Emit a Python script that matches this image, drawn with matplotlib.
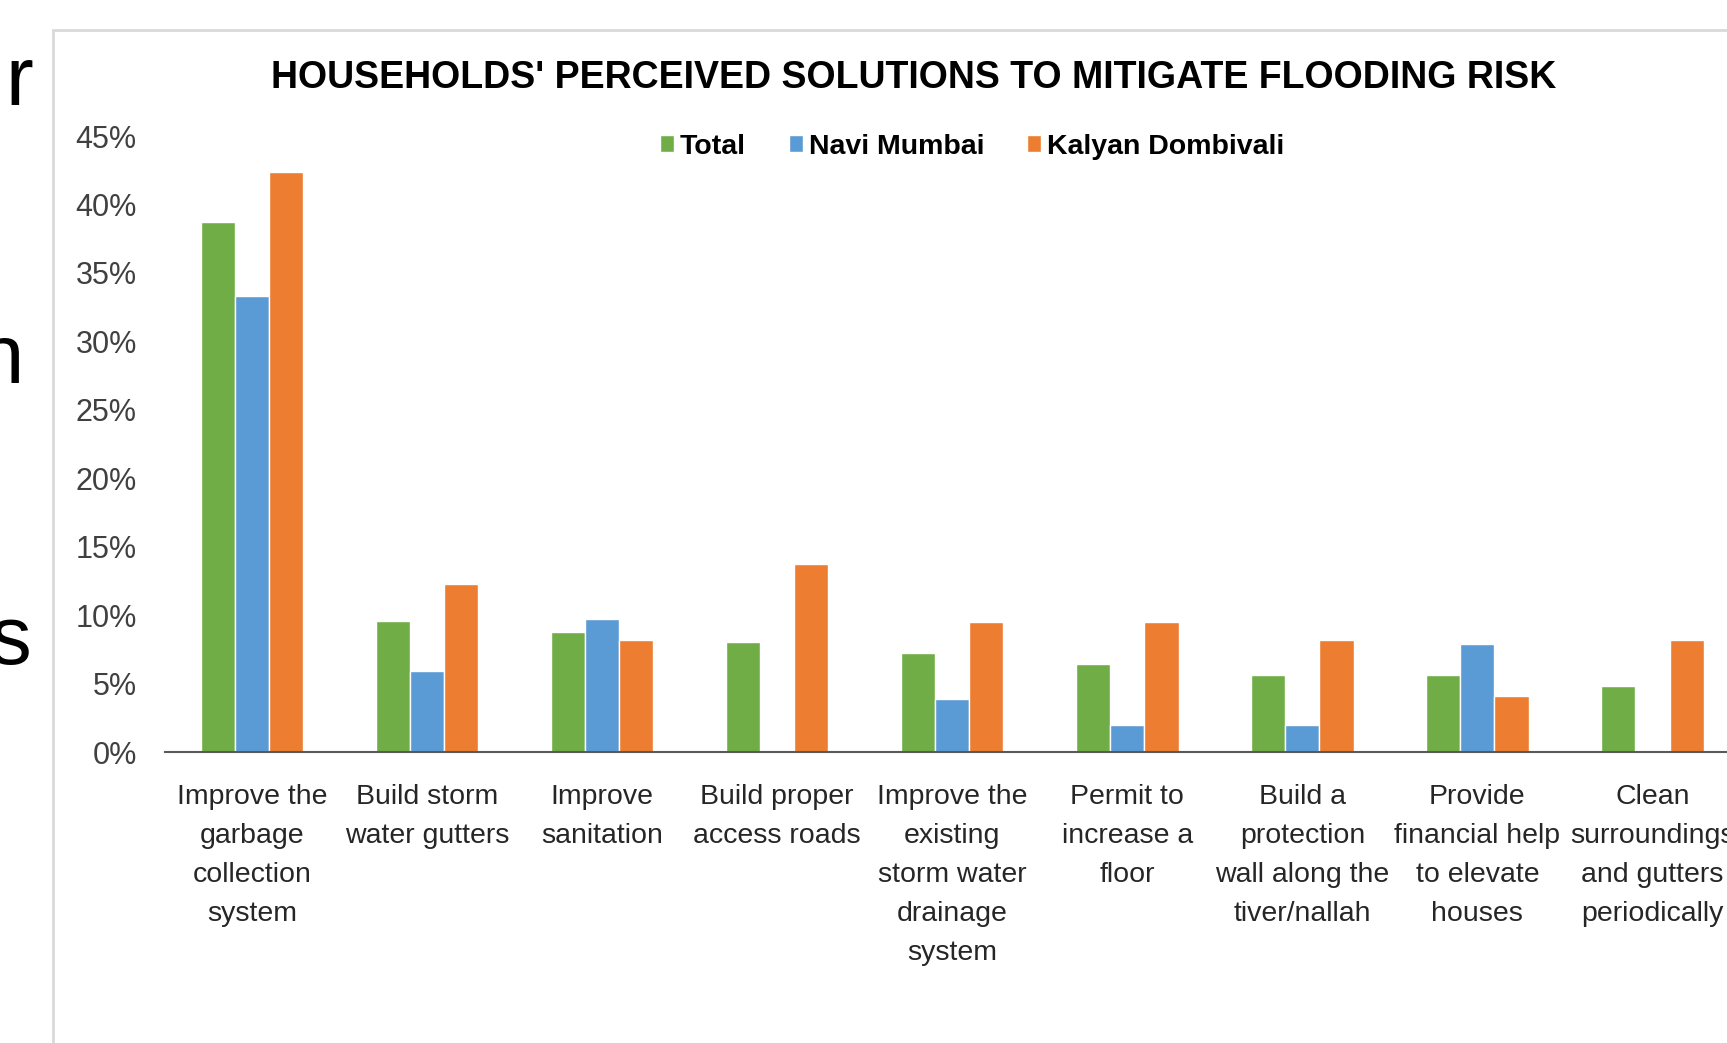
import numpy as np
import matplotlib.pyplot as plt
from matplotlib.patches import Rectangle

# categories and shares of households (fraction)
categories = [
    "Improve the\ngarbage\ncollection\nsystem",
    "Build storm\nwater gutters",
    "Improve\nsanitation",
    "Build proper\naccess roads",
    "Improve the\nexisting\nstorm water\ndrainage\nsystem",
    "Permit to\nincrease a\nfloor",
    "Build a\nprotection\nwall along the\ntiver/nallah",
    "Provide\nfinancial help\nto elevate\nhouses",
    "Clean\nsurroundings\nand gutters\nperiodically",
]
total = [0.387, 0.096, 0.088, 0.080, 0.072, 0.064, 0.056, 0.056, 0.048]
navi_mumbai = [0.333, 0.059, 0.097, 0.0, 0.039, 0.020, 0.020, 0.079, 0.0]
kalyan_dombivali = [0.424, 0.123, 0.082, 0.137, 0.095, 0.095, 0.082, 0.041, 0.082]

series_names = ["Total", "Navi Mumbai", "Kalyan Dombivali"]
colors = ["#70AD47", "#5B9BD5", "#ED7D31"]

W, H = 1727, 1043
fig = plt.figure(figsize=(W / 100, H / 100), dpi=100)
plt.rcParams['font.family'] = ['Liberation Sans', 'DejaVu Sans']

# chart frame (light grey border of the embedded chart)
fig.patches.append(Rectangle((53 / W, -0.1), 1.2, 1 - 30 / H + 0.1,
                             transform=fig.transFigure, fill=False,
                             edgecolor="#d9d9d9", linewidth=2))

# cut-off slide text at the left edge
for letter, xr, yb in [("r", 0.019, 105), ("n", 0.014, 383), ("s", 0.018, 664)]:
    fig.text(xr, 1 - yb / H, letter, fontsize=60, ha="right", va="baseline", color="#000000")

left, right = 164.5, 1740
top, bottom = 136, 752
ax = fig.add_axes([left / W, 1 - bottom / H, (right - left) / W, (bottom - top) / H])

x = np.arange(len(categories))
bw = 0.195
for i, (vals, name, c) in enumerate(zip([total, navi_mumbai, kalyan_dombivali], series_names, colors)):
    ax.bar(x + (i - 1) * bw, vals, bw, color=c, edgecolor="white", linewidth=1, label=name)

ax.set_xlim(-0.5, len(categories) - 0.5)
ax.set_ylim(0, 0.45)
ax.set_yticks(np.arange(0, 0.451, 0.05))
ax.set_yticklabels([f"{int(round(v * 100))}%" for v in np.arange(0, 0.451, 0.05)],
                   fontsize=22, color="#404040")
ax.set_xticks(x)
ax.set_xticklabels(categories, fontsize=20.5, color="#262626", linespacing=1.65)
ax.tick_params(axis="y", length=0, pad=20)
ax.tick_params(axis="x", length=0, pad=23)
for s in ["top", "right", "left"]:
    ax.spines[s].set_visible(False)
ax.spines["bottom"].set_color("#595959")
ax.spines["bottom"].set_linewidth(1.5)
ax.set_facecolor("none")

fig.text(914 / W, 1 - 78.5 / H, "HOUSEHOLDS' PERCEIVED SOLUTIONS TO MITIGATE FLOODING RISK",
         fontsize=27, fontweight="bold", ha="center", va="center", color="#000000")

handles, labels = ax.get_legend_handles_labels()
fig.legend(handles, labels, loc="center", bbox_to_anchor=(972 / W, 1 - 146.5 / H), ncol=3,
           frameon=False, handlelength=0.5, handleheight=0.5, handletextpad=0.2,
           columnspacing=1.5, prop={"weight": "bold", "size": 20.5})

fig.savefig("out.png", dpi=100, facecolor="white")
